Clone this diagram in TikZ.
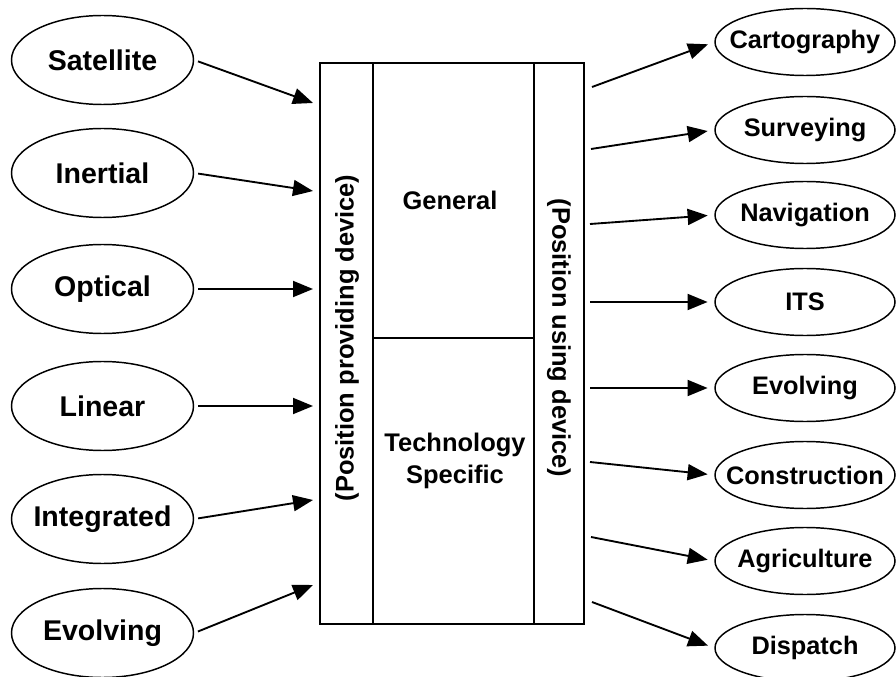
\documentclass[tikz,border=0pt]{standalone}
\usepackage{fontspec}
\setmainfont{Liberation Sans}
\usetikzlibrary{shapes.geometric,arrows.meta}
\begin{document}
\begin{tikzpicture}[x=0.75pt,y=-0.75pt,
  src/.style={ellipse,draw,line width=1.1pt,minimum width=136.5pt,minimum height=66.75pt,inner sep=0pt,font=\bfseries\fontsize{21.4}{24}\selectfont},
  dst/.style={ellipse,draw,line width=1.1pt,minimum width=135pt,minimum height=50.25pt,inner sep=0pt,font=\bfseries\fontsize{19}{22}\selectfont},
  lbl/.style={font=\bfseries\fontsize{19.1}{24}\selectfont,align=center,inner sep=0pt},
  boxline/.style={line width=1.4pt},
  arr/.style={line width=1.4pt,-{Triangle[length=15pt,width=12pt]}},
]
\useasboundingbox (0,0) rectangle (896,677);

% left sources
\node[src] (sat) at (102.5,60)  {\makebox[0pt]{Satellite}};
\node[src] (ine) at (102.5,173) {\makebox[0pt]{Inertial}};
\node[src] (opt) at (102.5,289) {\makebox[0pt]{Optical}};
\node[src] (lin) at (102.5,406) {\makebox[0pt]{Linear}};
\node[src] (int) at (102.5,519) {\makebox[0pt]{Integrated}};
\node[src] (evl) at (102.5,633) {\makebox[0pt]{Evolving}};

% right destinations
\node[dst] (car) at (805,42)  {\makebox[0pt]{Cartography}};
\node[dst] (sur) at (805,130) {\makebox[0pt]{Surveying}};
\node[dst] (nav) at (805,215) {\makebox[0pt]{Navigation}};
\node[dst] (its) at (805,302) {\makebox[0pt]{ITS}};
\node[dst] (evr) at (805,388) {\makebox[0pt]{Evolving}};
\node[dst] (con) at (805,475) {\makebox[0pt]{Construction}};
\node[dst] (agr) at (805,561) {\makebox[0pt]{Agriculture}};
\node[dst] (dis) at (805,648) {\makebox[0pt]{Dispatch}};

% central box
\node[draw,boxline,minimum width=198pt,minimum height=420.75pt,inner sep=0pt] (box) at (452,343.5) {};
\draw[boxline] (373,63) -- (373,624);
\draw[boxline] (534,63) -- (534,624);
\draw[boxline] (373,338) -- (534,338);

\node[lbl,rotate=90]  (ppd) at (347,338) {(Position providing device)};
\node[lbl,rotate=-90] (pud) at (559,338) {(Position using device)};
\node[lbl] (gen) at (450,200) {General};
\node[lbl] (tec) at (455,461) {Technology\\Specific};

% arrow end points at the box
\coordinate (l1) at (313,103);
\coordinate (l2) at (313,191);
\coordinate (l3) at (313,289);
\coordinate (l4) at (313,406);
\coordinate (l5) at (313,500);
\coordinate (l6) at (313,585);

\coordinate (r1) at (592,87);
\coordinate (r2) at (591,149);
\coordinate (r3) at (590,224);
\coordinate (r4) at (590,302);
\coordinate (r5) at (590,388);
\coordinate (r6) at (590,462);
\coordinate (r7) at (591,537);
\coordinate (r8) at (592,602);

\draw[arr,shorten <=3pt] (sat.east) -- (l1);
\draw[arr,shorten <=3pt] (ine.east) -- (l2);
\draw[arr,shorten <=3pt] (opt.east) -- (l3);
\draw[arr,shorten <=3pt] (lin.east) -- (l4);
\draw[arr,shorten <=3pt] (int.east) -- (l5);
\draw[arr,shorten <=3pt] (evl.east) -- (l6);

\draw[arr,shorten >=5pt] (r1) -- (car.west);
\draw[arr,shorten >=5pt] (r2) -- (sur.west);
\draw[arr,shorten >=5pt] (r3) -- (nav.west);
\draw[arr,shorten >=5pt] (r4) -- (its.west);
\draw[arr,shorten >=5pt] (r5) -- (evr.west);
\draw[arr,shorten >=5pt] (r6) -- (con.west);
\draw[arr,shorten >=5pt] (r7) -- (agr.west);
\draw[arr,shorten >=5pt] (r8) -- (dis.west);
\end{tikzpicture}
\end{document}
